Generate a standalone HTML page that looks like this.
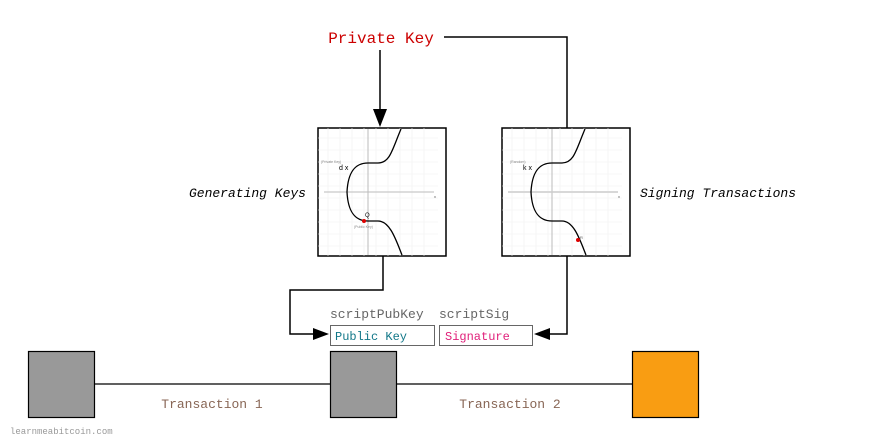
<!DOCTYPE html>
<html><head><style>
html,body{margin:0;padding:0;background:#fff;}
svg{display:block;}
.m{font-family:"Liberation Mono",monospace;}
</style></head><body>
<svg width="885" height="447" viewBox="0 0 885 447" xmlns="http://www.w3.org/2000/svg">
<defs>
<g id="grid" stroke="#f0f0f0" stroke-width="0.6">
<path d="M0,10H120M0,22H120M0,34H120M0,46H120M0,58H120M0,70H120M0,82H120M0,94H120M0,106H120M0,118H120"/>
<path d="M10,0V128M22,0V128M34,0V128M46,0V128M58,0V128M70,0V128M82,0V128M94,0V128M106,0V128"/>
</g>
</defs>
<text x="381" y="43" text-anchor="middle" class="m" font-size="16" fill="#c00">Private Key</text>
<line x1="380" y1="50" x2="380" y2="112" stroke="#000" stroke-width="1.5"/>
<polygon points="373,109 387,109 380,127" fill="#000"/>
<polyline points="444,37 567,37 567,128" fill="none" stroke="#000" stroke-width="1.5"/>
<rect x="318" y="128" width="128" height="128" fill="#fff" stroke="#000" stroke-width="1.5"/>
<g transform="translate(318,128)"><use href="#grid"/></g>
<line x1="368" y1="129" x2="368" y2="255" stroke="#bbb"/>
<line x1="324" y1="192" x2="434" y2="192" stroke="#bbb"/>
<path d="M401,129 C392,150 390,163 378,163 L368,163 C355,163 348,172 347,192 C348,212 355,221 368,221 L378,221 C390,221 396,240 402,255" fill="none" stroke="#000" stroke-width="1.3"/>
<circle cx="364" cy="221" r="2" fill="#d00"/>
<text x="365" y="217" font-family="Liberation Sans,sans-serif" font-size="6" fill="#000">Q</text>
<text x="321" y="163" font-family="Liberation Sans,sans-serif" font-size="3.5" fill="#888">(Private Key)</text>
<text x="339" y="170" font-family="Liberation Sans,sans-serif" font-size="7" fill="#000">d x</text>
<text x="354" y="228" font-family="Liberation Sans,sans-serif" font-size="3.5" fill="#888">(Public Key)</text>
<text x="434" y="198" font-family="Liberation Sans,sans-serif" font-size="4" fill="#555">x</text>
<rect x="502" y="128" width="128" height="128" fill="#fff" stroke="#000" stroke-width="1.5"/>
<g transform="translate(502,128)"><use href="#grid"/></g>
<line x1="552" y1="129" x2="552" y2="255" stroke="#bbb"/>
<line x1="508" y1="192" x2="618" y2="192" stroke="#ccc" stroke-width="1.5"/>
<path d="M585,129 C576,150 574,163 562,163 L552,163 C539,163 532,172 531,192 C532,212 539,221 552,221 L562,221 C574,221 580,240 586,255" fill="none" stroke="#000" stroke-width="1.3"/>
<circle cx="578" cy="240" r="2" fill="#d00"/>
<text x="580" y="239" font-family="Liberation Sans,sans-serif" font-size="4" fill="#555">R</text>
<text x="510" y="163" font-family="Liberation Sans,sans-serif" font-size="3.5" fill="#888">(Random)</text>
<text x="523" y="170" font-family="Liberation Sans,sans-serif" font-size="7" fill="#000">k x</text>
<text x="618" y="198" font-family="Liberation Sans,sans-serif" font-size="4" fill="#555">x</text>
<text x="306" y="197" text-anchor="end" class="m" font-size="13" font-style="italic" fill="#000">Generating Keys</text>
<text x="640" y="197" class="m" font-size="13" font-style="italic" fill="#000">Signing Transactions</text>
<polyline points="383,256 383,290 290,290 290,334 314,334" fill="none" stroke="#000" stroke-width="1.5"/>
<polygon points="313,328 313,340 329,334" fill="#000"/>
<polyline points="567,256 567,334 549,334" fill="none" stroke="#000" stroke-width="1.5"/>
<polygon points="550,328 550,340 534,334" fill="#000"/>
<text x="330" y="318" class="m" font-size="13" fill="#666">scriptPubKey</text>
<text x="439" y="318" class="m" font-size="13" fill="#666">scriptSig</text>
<rect x="330.5" y="325.5" width="104" height="20" fill="#fff" stroke="#666"/>
<text x="335" y="340" class="m" font-size="12" fill="#178">Public Key</text>
<rect x="439.5" y="325.5" width="93" height="20" fill="#fff" stroke="#666"/>
<text x="445" y="340" class="m" font-size="12" fill="#e0207a">Signature</text>
<line x1="95" y1="384" x2="632" y2="384" stroke="#000" stroke-width="1.2"/>
<rect x="28.5" y="351.5" width="66" height="66" fill="#999" stroke="#000" stroke-width="1.2"/>
<rect x="330.5" y="351.5" width="66" height="66" fill="#999" stroke="#000" stroke-width="1.2"/>
<rect x="632.5" y="351.5" width="66" height="66" fill="#f99d12" stroke="#000" stroke-width="1.2"/>
<text x="212" y="408" text-anchor="middle" class="m" font-size="13" fill="#865">Transaction 1</text>
<text x="510" y="408" text-anchor="middle" class="m" font-size="13" fill="#865">Transaction 2</text>
<text x="10" y="434" class="m" font-size="9" fill="#999">learnmeabitcoin.com</text>
</svg>
</body></html>
